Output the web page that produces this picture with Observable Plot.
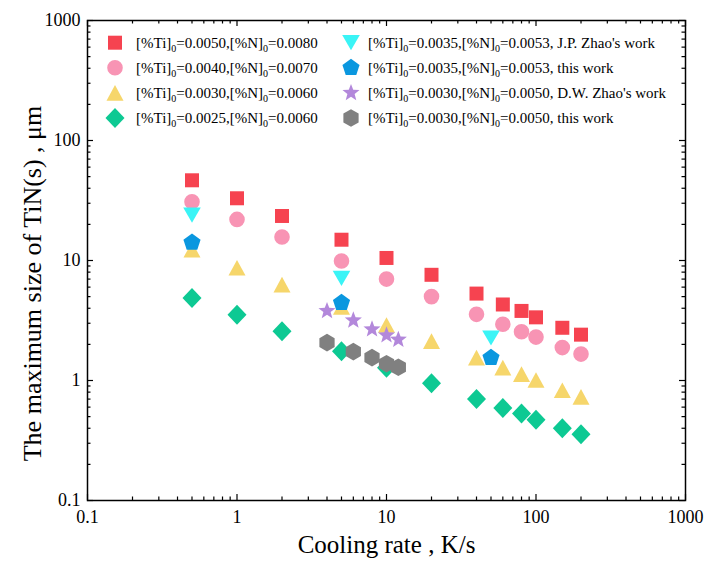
<!DOCTYPE html>
<html>
<head>
<meta charset="utf-8">
<script src="https://cdn.jsdelivr.net/npm/d3@7"></script>
<script src="https://cdn.jsdelivr.net/npm/@observablehq/plot@0.6"></script>
<style>
  html, body { margin: 0; padding: 0; background: #fff; }
  svg { display: block; }
  svg, svg text { font-family: "Liberation Serif", "DejaVu Serif", "Times New Roman", serif !important; }
</style>
</head>
<body>
<script>
// Cooling rate (K/s) for the four model compositions
const rate = [0.5, 1, 2, 5, 10, 20, 40, 60, 80, 100, 150, 200];
// Maximum TiN(s) size (μm) per composition
const sizeTi50N80 = [46.6, 33.0, 23.5, 14.9, 10.5, 7.6, 5.3, 4.3, 3.8, 3.36, 2.75, 2.41];
const sizeTi40N70 = [30.9, 22.0, 15.7, 9.9, 7.0, 5.0, 3.56, 2.94, 2.55, 2.30, 1.88, 1.66];
const sizeTi30N60 = [12.3, 8.7, 6.3, 4.1, 2.9, 2.13, 1.55, 1.28, 1.13, 1.01, 0.83, 0.73];
const sizeTi25N60 = [4.87, 3.53, 2.57, 1.75, 1.28, 0.95, 0.70, 0.59, 0.53, 0.47, 0.40, 0.356];
// Comparison sets
const rateTi35 = [0.5, 5, 50];
const sizeJPZhao = [23.9, 7.1, 2.26];
const sizeTi35This = [14.1, 4.45, 1.55];
const rateTi30N50 = [4, 6, 8, 10, 12];
const sizeDWZhao = [3.8, 3.17, 2.67, 2.38, 2.19];
const sizeTi30N50This = [2.07, 1.74, 1.55, 1.38, 1.29];

// Legend text pieces
const legendTi = ["0.0050", "0.0040", "0.0030", "0.0025", "0.0035", "0.0035", "0.0030", "0.0030"];
const legendN = ["0.0080", "0.0070", "0.0060", "0.0060", "0.0053", "0.0053", "0.0050", "0.0050"];
const legendNote = ["", "", "", "", ", J.P. Zhao's work", ", this work", ", D.W. Zhao's work", ", this work"];

// Axis ticks
const majorTicks = [0.1, 1, 10, 100, 1000];
const minorTicks = [0.1, 1, 10, 100].flatMap(d => [2, 3, 4, 5, 6, 7, 8, 9].map(k => +(d * k).toPrecision(3)));

const colors = ["#F64350", "#F894B4", "#F6D66B", "#0DC993", "#3AF4F6", "#0A97DF", "#B388DB", "#808080"];

// Marker shapes, sized relative to r = 8
const k = size => Math.sqrt(size / Math.PI) / 8;
const poly = (ctx, pts) => { ctx.moveTo(pts[0][0], pts[0][1]); for (const p of pts.slice(1)) ctx.lineTo(p[0], p[1]); ctx.closePath(); };
const regular = (n, R, rot) => d3.range(n).map(i => { const a = rot + i * 2 * Math.PI / n; return [R * Math.sin(a), -R * Math.cos(a)]; });
const symSquare = { draw(ctx, size) { const s = 7 * k(size); poly(ctx, [[-s, -s], [s, -s], [s, s], [-s, s]]); } };
const symCircle = { draw(ctx, size) { const R = 7.8 * k(size); ctx.moveTo(R, 0); ctx.arc(0, 0, R, 0, 2 * Math.PI); } };
const symTriUp = { draw(ctx, size) { const f = k(size); poly(ctx, [[0, -7.8 * f], [8.5 * f, 7.8 * f], [-8.5 * f, 7.8 * f]]); } };
const symTriDown = { draw(ctx, size) { const f = k(size); poly(ctx, [[0, 7.6 * f], [8.8 * f, -7.6 * f], [-8.8 * f, -7.6 * f]]); } };
const symDiamond = { draw(ctx, size) { const f = k(size); poly(ctx, [[0, -10 * f], [9.5 * f, 0], [0, 10 * f], [-9.5 * f, 0]]); } };
const symPentagon = { draw(ctx, size) { poly(ctx, regular(5, 9 * k(size), 0)); } };
const symHexagon = { draw(ctx, size) { poly(ctx, regular(6, 8.8 * k(size), 0)); } };
const symStar = { draw(ctx, size) {
  const f = k(size);
  const pts = d3.range(10).map(i => { const R = (i % 2 ? 3.8 : 9) * f, a = i * Math.PI / 5; return [R * Math.sin(a), -R * Math.cos(a)]; });
  poly(ctx, pts);
} };
const symbols = [symSquare, symCircle, symTriUp, symDiamond, symTriDown, symPentagon, symStar, symHexagon];

const series = [
  [rate, sizeTi50N80], [rate, sizeTi40N70], [rate, sizeTi30N60], [rate, sizeTi25N60],
  [rateTi35, sizeJPZhao], [rateTi35, sizeTi35This], [rateTi30N50, sizeDWZhao], [rateTi30N50, sizeTi30N50This]
];

const font = "Liberation Serif, Times New Roman, serif";
const tickFmt = d => String(d);

const W = 707, H = 565, mL = 87, mR = 22, mT = 20, mB = 65;
const frameW = W - mL - mR, frameH = H - mT - mB;
const major = 6, minor = 3.5;

const dotMarks = series.map(([xs, ys], i) =>
  Plot.dot(xs.map((x, j) => ({x, y: ys[j]})), {x: "x", y: "y", r: 8, symbol: symbols[i], fill: colors[i], stroke: "none"})
);

// Inward tick marks on all four sides
const tickStyle = {stroke: "#000", strokeWidth: 1.2};
const inwardTicks = [
  Plot.tickX(majorTicks, {x: d => d, insetTop: frameH - major, ...tickStyle}),
  Plot.tickX(minorTicks, {x: d => d, insetTop: frameH - minor, ...tickStyle}),
  Plot.tickX(majorTicks, {x: d => d, insetBottom: frameH - major, ...tickStyle}),
  Plot.tickX(minorTicks, {x: d => d, insetBottom: frameH - minor, ...tickStyle}),
  Plot.tickY(majorTicks, {y: d => d, insetRight: frameW - major, ...tickStyle}),
  Plot.tickY(minorTicks, {y: d => d, insetRight: frameW - minor, ...tickStyle}),
  Plot.tickY(majorTicks, {y: d => d, insetLeft: frameW - major, ...tickStyle}),
  Plot.tickY(minorTicks, {y: d => d, insetLeft: frameW - minor, ...tickStyle})
];

const chart = Plot.plot({
  width: W,
  height: H,
  marginLeft: mL,
  marginRight: mR,
  marginTop: mT,
  marginBottom: mB,
  style: {fontFamily: font, background: "#fff", color: "#000"},
  x: {type: "log", domain: [0.1, 1000]},
  y: {type: "log", domain: [0.1, 1000]},
  marks: [
    ...dotMarks,
    ...inwardTicks,
    Plot.axisX({anchor: "bottom", ticks: majorTicks, tickFormat: tickFmt, tickSize: 0, tickPadding: 10, fontSize: 18, label: null}),
    Plot.axisY({anchor: "left", ticks: majorTicks, tickFormat: tickFmt, tickSize: 0, tickPadding: 7, fontSize: 18, label: null}),
    Plot.frame({stroke: "#000", strokeWidth: 1.5}),
    Plot.text(["Cooling rate , K/s"], {text: d => d, frameAnchor: "bottom", dy: 52, fontSize: 25, fill: "#000"}),
    Plot.text(["The maximum size of TiN(s) , μm"], {text: d => d, frameAnchor: "left", textAnchor: "middle", rotate: -90, dx: -55, dy: 23, fontSize: 26, fill: "#000"})
  ]
});

// Legend inside the plot area: two columns of four entries
const svg = d3.select(chart);
const legend = svg.append("g").attr("font-size", 15).attr("fill", "#000").attr("text-anchor", "start");
const cols = [{sx: 115, tx: 136}, {sx: 351, tx: 368}];
const row0 = 42.7, rowStep = 25.1;
symbols.forEach((sym, i) => {
  const col = cols[Math.floor(i / 4)], y = row0 + (i % 4) * rowStep;
  legend.append("path")
    .attr("transform", `translate(${col.sx},${y})`)
    .attr("d", d3.symbol(sym, 64 * Math.PI)())
    .attr("fill", colors[i]);
  const t = legend.append("text").attr("x", col.tx).attr("y", y + 5).attr("text-anchor", "start");
  t.append("tspan").text("[%Ti]");
  t.append("tspan").attr("font-size", 10).attr("dy", 4).text("0");
  t.append("tspan").attr("dy", -4).text(`=${legendTi[i]},[%N]`);
  t.append("tspan").attr("font-size", 10).attr("dy", 4).text("0");
  t.append("tspan").attr("dy", -4).text(`=${legendN[i]}${legendNote[i]}`);
});

document.body.appendChild(chart);
</script>
</body>
</html>
